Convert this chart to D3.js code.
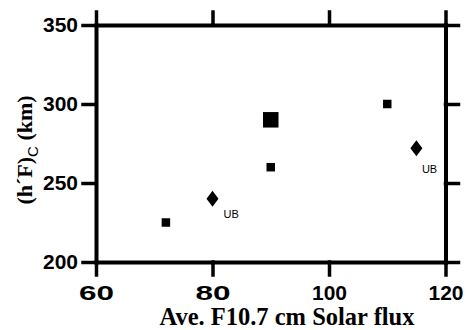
<!DOCTYPE html>
<html>
<head>
<meta charset="utf-8">
<script src="https://cdn.jsdelivr.net/npm/d3@7"></script>
<style>
  body { margin: 0; background: #fff; }
  .axis path, .axis line { stroke: #000; stroke-linecap: square; }
  .axis path { stroke-width: 4; }
  .axis line { stroke-width: 3.5; }
  .axis text { font-family: "Liberation Sans", Arial, sans-serif; font-weight: bold; font-size: 20px; fill: #000; }
  .title { font-family: "Liberation Serif", "Times New Roman", serif; font-weight: bold; fill: #000; }
  .ub { font-family: "Liberation Sans", Arial, sans-serif; font-size: 11px; fill: #000; }
</style>
</head>
<body>
<script>
// chart data
const flux   = [72, 80, 90, 90, 110, 115];
const hFc    = [225, 240, 290, 260, 300, 272];
const marker = ["square", "diamond", "bigsquare", "square", "square", "diamond"];
const notes  = ["", "UB", "", "", "", "UB"];

const xTicks = [60, 80, 100, 120];
const yTicks = [200, 250, 300, 350];

const W = 468, H = 330;
const margin = {top: 25, right: 22.5, bottom: 68, left: 96};

const svg = d3.select("body").append("svg")
    .attr("width", W)
    .attr("height", H);

const x = d3.scaleLinear().domain([60, 120]).range([margin.left, W - margin.right]);
const y = d3.scaleLinear().domain([200, 350]).range([H - margin.bottom, margin.top]);

const tick = 13;

// axes on all four sides, ticks pointing out
svg.append("g")
    .attr("class", "axis")
    .attr("transform", `translate(0,${y(200)})`)
    .call(d3.axisBottom(x).tickValues(xTicks).tickSize(tick).tickSizeOuter(0).tickPadding(11));

svg.append("g")
    .attr("class", "axis")
    .attr("transform", `translate(0,${y(350)})`)
    .call(d3.axisTop(x).tickValues(xTicks).tickSize(tick).tickSizeOuter(0).tickFormat(""));

svg.append("g")
    .attr("class", "axis")
    .attr("transform", `translate(${x(60)},0)`)
    .call(d3.axisLeft(y).tickValues(yTicks).tickSize(tick).tickSizeOuter(0).tickPadding(5));

svg.append("g")
    .attr("class", "axis")
    .attr("transform", `translate(${x(120)},0)`)
    .call(d3.axisRight(y).tickValues(yTicks).tickSize(tick).tickSizeOuter(0).tickFormat(""));

// tick labels are a bit wide in the original
svg.selectAll(".axis text")
    .attr("textLength", 35)
    .attr("lengthAdjust", "spacingAndGlyphs");

// markers
const data = flux.map((f, i) => ({f: f, h: hFc[i], m: marker[i], note: notes[i]}));

const sym = {
  square: d3.symbol().type(d3.symbolSquare).size(8.5 * 8.5),
  bigsquare: d3.symbol().type(d3.symbolSquare).size(15.5 * 15.5)
};

svg.append("g").selectAll("path")
  .data(data)
  .join("path")
    .attr("transform", d => `translate(${x(d.f)},${y(d.h)})`)
    .attr("d", d => d.m === "diamond" ? "M0,-8L6,0L0,8L-6,0Z" : sym[d.m]())
    .attr("fill", "#000");

// UB labels next to the diamonds
const noteOffset = [[0, 0], [11, 19], [0, 0], [0, 0], [0, 0], [5.5, 25]];
svg.append("g").selectAll("text")
  .data(data.map((d, i) => ({...d, i: i})).filter(d => d.note))
  .join("text")
    .attr("class", "ub")
    .attr("x", d => x(d.f) + noteOffset[d.i][0])
    .attr("y", d => y(d.h) + noteOffset[d.i][1])
    .text(d => d.note);

// axis titles
svg.append("text")
    .attr("class", "title")
    .attr("x", 287)
    .attr("y", 325)
    .attr("text-anchor", "middle")
    .style("font-size", "24.5px")
    .text("Ave. F10.7 cm Solar flux");

const yt = svg.append("text")
    .attr("class", "title")
    .attr("transform", "translate(32,150) rotate(-90)")
    .attr("text-anchor", "middle")
    .style("font-size", "22px");
yt.append("tspan").text("(h\u00B4F)");
yt.append("tspan").attr("dy", 6).style("font-size", "15px").style("font-family", "Liberation Sans, Arial, sans-serif").style("font-weight", "normal").text("C");
yt.append("tspan").attr("dy", -6).text(" (km)");
</script>
</body>
</html>
